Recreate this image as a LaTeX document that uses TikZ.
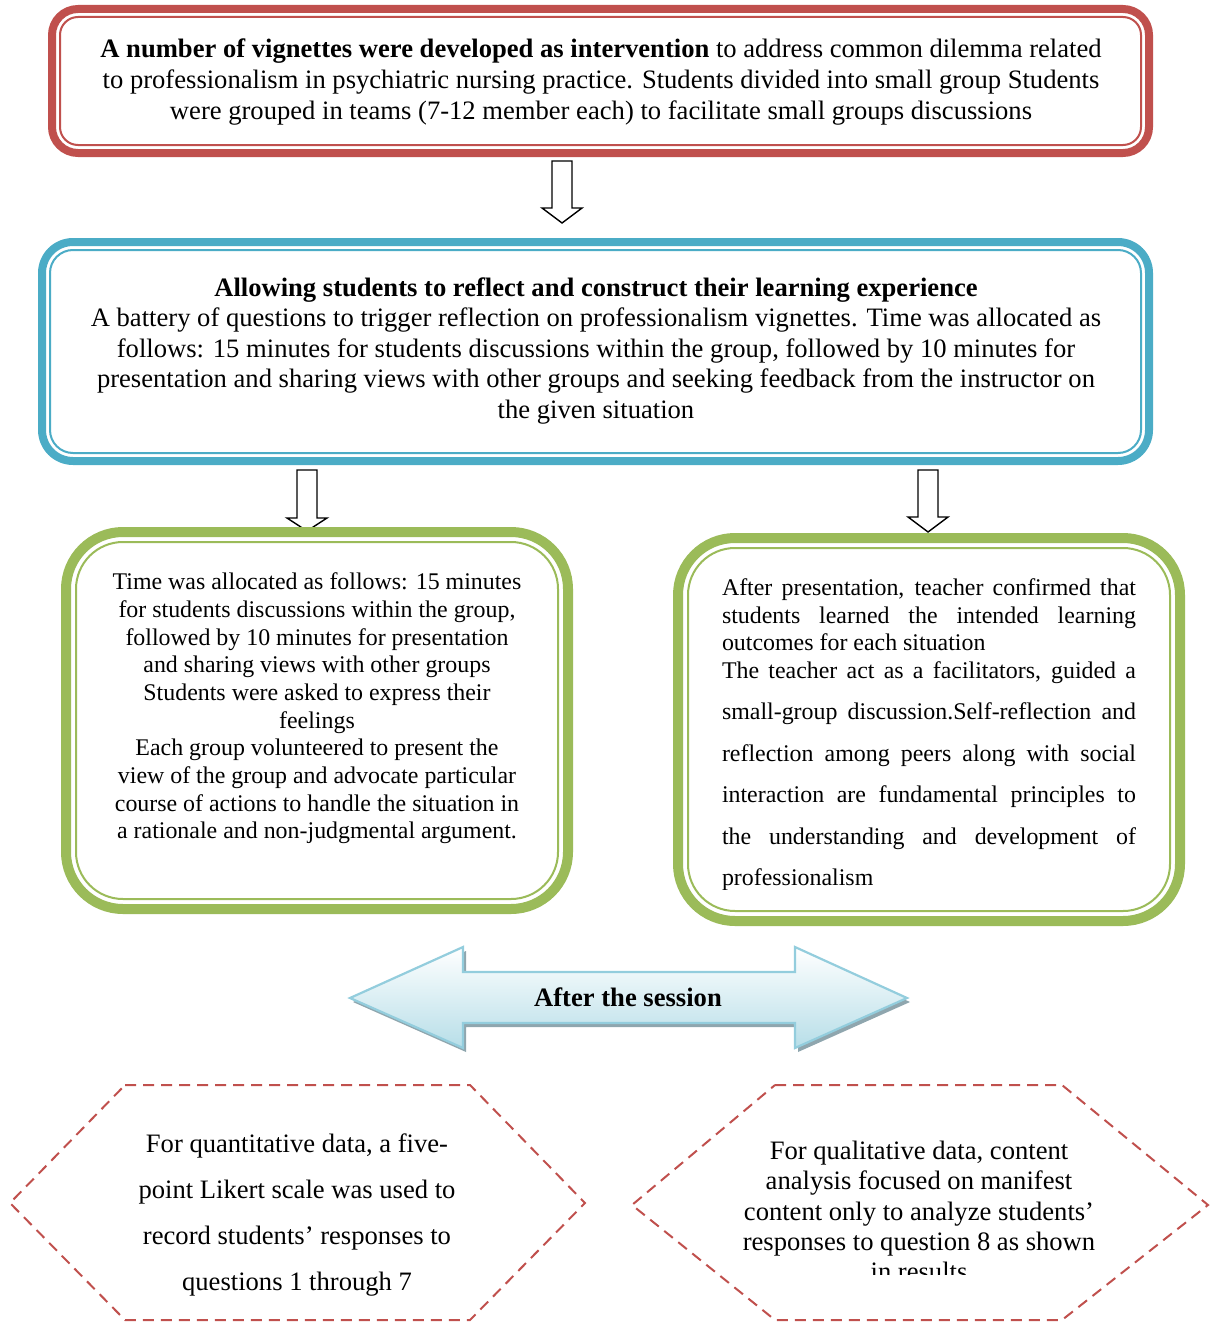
\documentclass[tikz,border=0pt]{standalone}
\usepackage{fontspec}
\setmainfont{Liberation Serif}
\definecolor{redC}{HTML}{C0504D}
\definecolor{blueC}{HTML}{4BACC6}
\definecolor{greenC}{HTML}{9BBB59}
\definecolor{arrowB}{HTML}{93CDDD}
\definecolor{arrowF}{HTML}{B7DEE8}
\definecolor{shadowC}{HTML}{8FA6AE}
\begin{document}
\begin{tikzpicture}[x=1pt,y=-1pt,
  boxouter/.style={draw=#1, fill=white, inner sep=0pt},
  boxinner/.style={draw=#1, line width=2pt, inner sep=0pt},
  txt/.style={font=\fontsize{26.6}{31}\selectfont, align=center, inner sep=0pt},
  hollow/.style={draw=black, fill=white, line width=1.4pt, line join=miter},
  hexline/.style={draw=redC, line width=2pt, dash pattern=on 11pt off 7pt},
]
\useasboundingbox (0,0) rectangle (1213,1322);

% hollow block arrows
\coordinate (a1) at (562,161);
\draw[hollow] (a1) ++(-10,0) -- ++(0,47) -- ++(-10,0) -- ++(20,15) -- ++(20,-15) -- ++(-10,0) -- ++(0,-47) -- cycle;
\coordinate (a2) at (307,470);
\draw[hollow] (a2) ++(-10,0) -- ++(0,48) -- ++(-10,0) -- ++(20,13) -- ++(20,-13) -- ++(-10,0) -- ++(0,-48) -- cycle;
\coordinate (a3) at (928,470);
\draw[hollow] (a3) ++(-10,0) -- ++(0,47) -- ++(-10,0) -- ++(20,15) -- ++(20,-15) -- ++(-10,0) -- ++(0,-47) -- cycle;

% red box
\node[boxouter=redC, line width=8pt, rounded corners=26pt, minimum width=1097pt, minimum height=144pt] (b1) at (600.5,81) {};
\node[boxinner=redC, rounded corners=18pt, minimum width=1081pt, minimum height=128pt] (b1i) at (b1.center) {};
\node[txt] (t1) at (601,82) {\textbf{A number of vignettes were developed as intervention} to address common dilemma related\\
to professionalism in psychiatric nursing practice. Students divided into small group Students\\
were grouped in teams (7-12 member each) to facilitate small groups discussions};

% blue box
\node[boxouter=blueC, line width=8pt, rounded corners=31pt, minimum width=1107pt, minimum height=219pt] (b2) at (595.5,351.5) {};
\node[boxinner=blueC, rounded corners=23pt, minimum width=1091pt, minimum height=203pt] (b2i) at (b2.center) {};
\node[txt, font=\fontsize{26.6}{30.5}\selectfont] (t2) at (596,351) {\textbf{Allowing students to reflect and construct their learning experience}\\
A battery of questions to trigger reflection on professionalism vignettes. Time was allocated as\\
follows: 15 minutes for students discussions within the group, followed by 10 minutes for\\
presentation and sharing views with other groups and seeking feedback from the instructor on\\
the given situation};

% left green box
\node[boxouter=greenC, line width=10pt, rounded corners=57pt, minimum width=502pt, minimum height=377pt] (b3) at (317,720.5) {};
\node[boxinner=greenC, rounded corners=47pt, minimum width=482pt, minimum height=357pt] (b3i) at (b3.center) {};
\node[txt, font=\fontsize{23.9}{27.7}\selectfont] (t3) at (317,708.5) {Time was allocated as follows: 15 minutes\\
for students discussions within the group,\\
followed by 10 minutes for presentation\\
and sharing views with other groups\\
Students were asked to express their\\
feelings\\
Each group volunteered to present the\\
view of the group and advocate particular\\
course of actions to handle the situation in\\
a rationale and non-judgmental argument.};

% right green box
\node[boxouter=greenC, line width=10pt, rounded corners=57pt, minimum width=502pt, minimum height=383pt] (b4) at (929,729.5) {};
\node[boxinner=greenC, rounded corners=47pt, minimum width=482pt, minimum height=363pt] (b4i) at (b4.center) {};
\begin{scope}
\clip (690,550) rectangle (1170,889);
\node[txt, font=\fontsize{23.9}{27.5}\selectfont, align=left] (t4) at (929,735) {\makebox[414pt][s]{After presentation, teacher confirmed that}\\
\makebox[414pt][s]{students learned the intended learning}\\
outcomes for each situation\\
\makebox[414pt][s]{The teacher act as a facilitators, guided a}\\[14pt]
\makebox[414pt][s]{small-group discussion.Self-reflection and}\\[14pt]
\makebox[414pt][s]{reflection among peers along with social}\\[14pt]
\makebox[414pt][s]{interaction are fundamental principles to}\\[14pt]
\makebox[414pt][s]{the understanding and development of}\\[14pt]
professionalism};
\end{scope}

% double arrow "After the session"
\fill[shadowC, xshift=3pt, yshift=-4pt] (350,998) -- (463,947) -- (463,972) -- (795,972) -- (795,947) -- (907,998) -- (795,1048) -- (795,1023) -- (463,1023) -- (463,1048) -- cycle;
\shade[top color=white, bottom color=arrowF, draw=arrowB, line width=2.2pt, line join=miter] (350,998) -- (463,947) -- (463,972) -- (795,972) -- (795,947) -- (907,998) -- (795,1048) -- (795,1023) -- (463,1023) -- (463,1048) -- cycle;
\node[font=\bfseries\fontsize{26.6}{30}\selectfont, inner sep=0pt] (after) at (628,997) {After the session};

% hexagons
\draw[hexline] (125,1085) -- (470,1085) -- (585,1203) -- (470,1320) -- (125,1320) -- (10,1203) -- cycle;
\draw[hexline] (775,1085) -- (1062,1085) -- (1208,1205) -- (1062,1320) -- (775,1320) -- (632,1205) -- cycle;
\node[txt, font=\fontsize{26.6}{46}\selectfont] (h1) at (297,1215) {For quantitative data, a five-\\
point Likert scale was used to\\
record students’ responses to\\
questions 1 through 7};
\begin{scope}
\clip (660,1100) rectangle (1180,1274);
\node[txt, font=\fontsize{26.6}{30.3}\selectfont] (h2) at (919,1211) {For qualitative data, content\\
analysis focused on manifest\\
content only to analyze students’\\
responses to question 8 as shown\\
in results};
\end{scope}
\end{tikzpicture}
\end{document}
